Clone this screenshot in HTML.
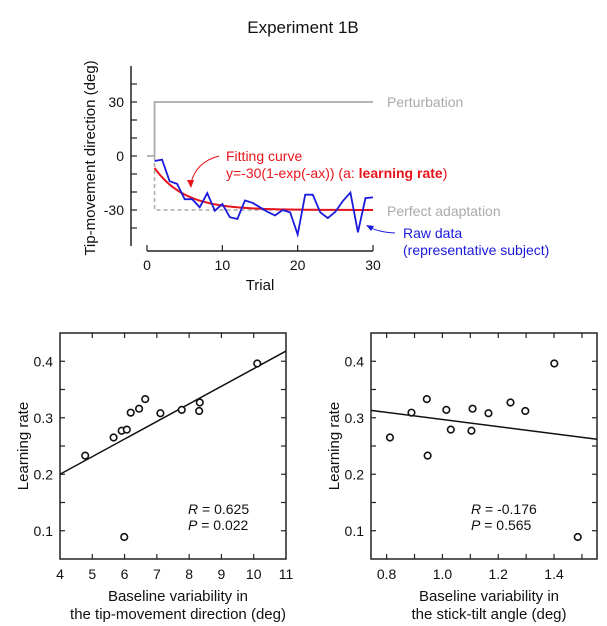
<!DOCTYPE html>
<html><head><meta charset="utf-8"><style>
html,body{margin:0;padding:0;background:#fff;}
svg{display:block;font-family:"Liberation Sans",Arial,sans-serif;}
</style></head><body>
<svg id="fig" width="607" height="626" viewBox="0 0 607 626" xmlns="http://www.w3.org/2000/svg">
<text x="303" y="33" font-size="17" text-anchor="middle" fill="#111">Experiment 1B</text>
<g id="top"></g>
<g id="bl"></g>
<g id="br"></g>
</svg>
<script>
const trials = [1,2,3,4,5,6,7,8,9,10,11,12,13,14,15,16,17,18,19,20,21,22,23,24,25,26,27,28,29,30];
const rawData = [-2.8,-2,-14,-15.5,-24,-24,-28.5,-20.6,-30.4,-26.7,-34,-35,-24.7,-26,-28.5,-31,-33,-30,-31.3,-43.6,-21.5,-21.5,-31.3,-34.5,-31,-25,-20.3,-42.4,-23.4,-23];
const learningRate = 0.25;
const topYTicks = [-30,0,30];
const topXTicks = [0,10,20,30];

const tipVar = [4.78,5.66,5.91,6.07,6.19,6.45,6.64,7.11,7.77,8.31,8.33,10.11,5.99];
const tiltVar = [0.947,0.812,1.104,1.030,0.889,1.108,0.944,1.165,1.014,1.297,1.244,1.401,1.485];
const rates = [0.233,0.265,0.277,0.279,0.309,0.316,0.333,0.308,0.314,0.312,0.327,0.396,0.089];
const leftFit = [[4,0.2],[11,0.418]];
const rightFit = [[0.744,0.313],[1.554,0.262]];
const leftXTicks = [4,5,6,7,8,9,10,11];
const rightXTicks = [0.8,1.0,1.2,1.4];
const rateTicks = [0.1,0.2,0.3,0.4];

const NS='http://www.w3.org/2000/svg';
function mk(parent,tag,attrs,text){const e=document.createElementNS(NS,tag);for(const k in attrs)e.setAttribute(k,attrs[k]);if(text!==undefined)e.textContent=text;parent.appendChild(e);return e;}

// ---------- top chart ----------
(function(){
const g=document.getElementById('top');
const X=t=>147+(t-0)*(373-147)/30;
const Y=v=>156-v*1.8;
let e;
e=mk(g,'line',{x1:131,y1:Y(50),x2:131,y2:Y(-50),stroke:'#222','stroke-width':1.5});

for(let v=-40;v<=40;v+=10){e=mk(g,'line',{x1:131,x2:137,y1:Y(v),y2:Y(v),stroke:'#222','stroke-width':1.2});}
topYTicks.forEach(v=>{e=mk(g,'text',{x:124,y:Y(v)+5,'font-size':14,'text-anchor':'end',fill:'#111'},String(v));
});
e=mk(g,'line',{x1:X(0),y1:251,x2:X(30),y2:251,stroke:'#222','stroke-width':1.5});

topXTicks.forEach(t=>{mk(g,'line',{x1:X(t),x2:X(t),y1:245,y2:251,stroke:'#222','stroke-width':1.2});
e=mk(g,'text',{x:X(t),y:270,'font-size':14,'text-anchor':'middle',fill:'#111'},String(t));
});
e=mk(g,'text',{x:260,y:290,'font-size':15,'text-anchor':'middle',fill:'#111'},'Trial');

e=mk(g,'text',{x:0,y:0,'font-size':15,'text-anchor':'middle',fill:'#111',transform:'translate(95,158) rotate(-90)'},'Tip-movement direction (deg)');

// perturbation
e=mk(g,'polyline',{points:`${X(0)},${Y(0)} ${X(1)},${Y(0)} ${X(1)},${Y(30)} ${X(30)},${Y(30)}`,fill:'none',stroke:'#aaa','stroke-width':1.8});

e=mk(g,'polyline',{points:`${X(1)},${Y(0)} ${X(1)},${Y(-30)} ${X(30)},${Y(-30)}`,fill:'none',stroke:'#aaa','stroke-width':1.5,'stroke-dasharray':'4,3'});

// fit
let pts=[];for(let t=1;t<=30;t+=0.25){pts.push(X(t)+','+Y(-30*(1-Math.exp(-learningRate*t))));}
e=mk(g,'polyline',{points:pts.join(' '),fill:'none',stroke:'#e8141c','stroke-width':2});

e=mk(g,'polyline',{points:trials.map((t,i)=>X(t)+','+Y(rawData[i])).join(' '),fill:'none',stroke:'#1a1adc','stroke-width':1.8});

// annotations
e=mk(g,'text',{x:387,y:107,'font-size':14,fill:'#aaa'},'Perturbation');

e=mk(g,'text',{x:387,y:216,'font-size':14,fill:'#aaa'},'Perfect adaptation');

e=mk(g,'text',{x:226,y:161,'font-size':14,fill:'#e8141c'},'Fitting curve');

e=mk(g,'text',{x:226,y:178,'font-size':14,fill:'#e8141c'});

e.innerHTML='y=-30(1-exp(-ax)) (a: <tspan font-weight="bold">learning rate</tspan>)';
e=mk(g,'text',{x:403,y:238,'font-size':14,fill:'#1a1adc'},'Raw data');

e=mk(g,'text',{x:403,y:255,'font-size':14,fill:'#1a1adc'},'(representative subject)');

e=mk(g,'path',{d:'M219,156 Q196,162 191,183',fill:'none',stroke:'#e8141c','stroke-width':1});

mk(g,'path',{d:'M187,180 L191,188 L194,180 Z',fill:'#e8141c'});
e=mk(g,'path',{d:'M395,233 Q378,232 369,227',fill:'none',stroke:'#1a1adc','stroke-width':1});

mk(g,'path',{d:'M366,225 L374,226 L371,231 Z',fill:'#1a1adc'});
})();

// ---------- scatter ----------
function scatter(id,xs,fit,xTicks,xMin,xMax,left,minorStep,fmt,lab1,lab2,rTxt,pTxt,statX){
const g=document.getElementById(id);
const L=left,R=left+226,T=333,B=559;
const X=v=>L+(v-xMin)/(xMax-xMin)*(R-L);
const Y=v=>B-(v-0.05)/0.4*(B-T);
let e=mk(g,'rect',{x:L,y:T,width:R-L,height:B-T,fill:'none',stroke:'#222','stroke-width':1.5});

for(let v=0.1;v<=0.401;v+=0.05){mk(g,'line',{x1:L,x2:L+5,y1:Y(v),y2:Y(v),stroke:'#222','stroke-width':1.2});mk(g,'line',{x1:R,x2:R-5,y1:Y(v),y2:Y(v),stroke:'#222','stroke-width':1.2});}
rateTicks.forEach(v=>{e=mk(g,'text',{x:L-7,y:Y(v)+5,'font-size':14,'text-anchor':'end',fill:'#111'},v.toFixed(1));
});
const start=Math.ceil(xMin/minorStep-1e-9)*minorStep;
for(let v=start;v<=xMax+1e-9;v+=minorStep){if(X(v)<=L+0.5||X(v)>=R-0.5)continue;mk(g,'line',{x1:X(v),x2:X(v),y1:B,y2:B-5,stroke:'#222','stroke-width':1.2});mk(g,'line',{x1:X(v),x2:X(v),y1:T,y2:T+5,stroke:'#222','stroke-width':1.2});}
xTicks.forEach(v=>{e=mk(g,'text',{x:X(v),y:B+20,'font-size':14,'text-anchor':'middle',fill:'#111'},fmt(v));
});
e=mk(g,'line',{x1:X(fit[0][0]),y1:Y(fit[0][1]),x2:X(fit[1][0]),y2:Y(fit[1][1]),stroke:'#111','stroke-width':1.5});

xs.forEach((x,i)=>{e=mk(g,'circle',{cx:X(x),cy:Y(rates[i]),r:3.3,fill:'#fff',stroke:'#111','stroke-width':1.6});
});
e=mk(g,'text',{x:0,y:0,'font-size':15,'text-anchor':'middle',fill:'#111',transform:`translate(${L-32},${(T+B)/2}) rotate(-90)`},'Learning rate');

e=mk(g,'text',{x:(L+R)/2+5,y:B+42,'font-size':15,'text-anchor':'middle',fill:'#111'},lab1);

e=mk(g,'text',{x:(L+R)/2+5,y:B+60,'font-size':15,'text-anchor':'middle',fill:'#111'},lab2);

e=mk(g,'text',{x:statX,y:514,'font-size':14,fill:'#111'});e.innerHTML='<tspan font-style="italic">R</tspan> = '+rTxt;

e=mk(g,'text',{x:statX,y:530,'font-size':14,fill:'#111'});e.innerHTML='<tspan font-style="italic">P</tspan> = '+pTxt;

}
scatter('bl',tipVar,leftFit,leftXTicks,4,11,60,1,v=>String(v),'Baseline variability in','the tip-movement direction (deg)','0.625','0.022',188);
scatter('br',tiltVar,rightFit,rightXTicks,0.744,1.554,371,0.1,v=>v.toFixed(1),'Baseline variability in','the stick-tilt angle (deg)','-0.176','0.565',471);
</script>
</body></html>
